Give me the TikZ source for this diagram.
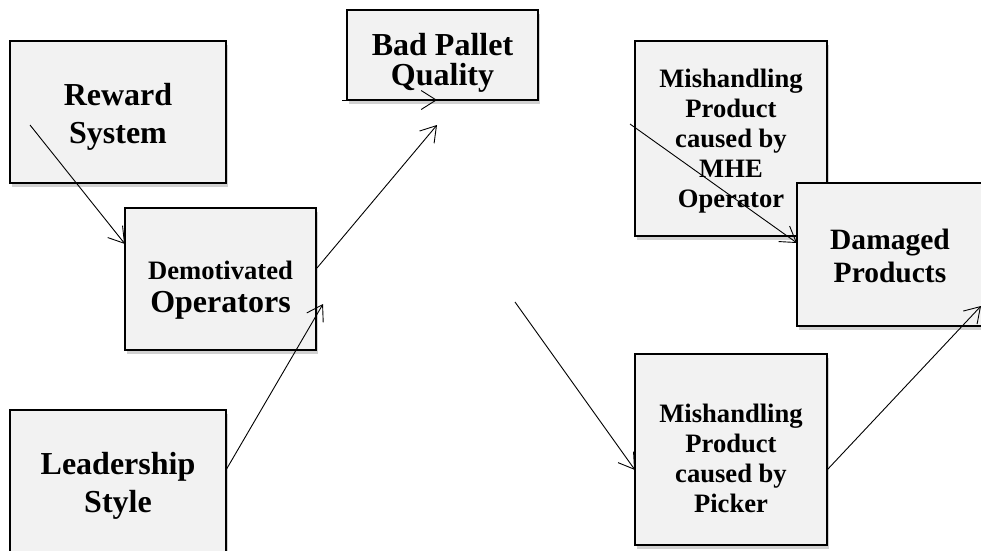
\documentclass[tikz,border=0pt]{standalone}
\usepackage{fontspec}
\setmainfont{Liberation Serif}
\usetikzlibrary{arrows.meta,shadows,calc}
\definecolor{boxfill}{HTML}{F2F2F2}
\tikzset{
  cbox/.style={draw=black, line width=2pt, fill=boxfill, outer sep=0pt, inner sep=0pt,
    drop shadow={shadow xshift=2pt, shadow yshift=-4pt, fill=black, opacity=0.18}},
  ctext/.style={align=center, font=\bfseries, inner sep=0pt},
  carrow/.style={line width=0.9pt, -{Straight Barb[length=15pt,width=19pt,line width=0.9pt]}}
}
\begin{document}
\begin{tikzpicture}[x=1pt,y=-1pt]
\useasboundingbox (0,0) rectangle (981,550);
% boxes
\node[cbox, minimum width=216, minimum height=142] (rs) at (118,112) {};
\node[cbox, minimum width=191, minimum height=142] (do) at (220.5,279) {};
\node[cbox, minimum width=216, minimum height=146] (ls) at (118,483) {};
\node[cbox, minimum width=191, minimum height=90] (bp) at (442.5,55) {};
\node[cbox, minimum width=192, minimum height=195] (mh) at (731,138.5) {};
\node[cbox, minimum width=200, minimum height=143] (dp) at (897,254.5) {};
\node[cbox, minimum width=192, minimum height=191] (pk) at (731,449.5) {};
% texts
\node[ctext, font=\bfseries\fontsize{32}{38}\selectfont] (rsT) at (118,116.5) {Reward\\System};
\node[ctext, font=\bfseries\fontsize{32}{33}\selectfont] (doT) at (220.5,290) {{\fontsize{26.6}{33}\selectfont Demotivated}\\Operators};
\node[ctext, font=\bfseries\fontsize{32}{38}\selectfont] (lsT) at (118,486) {Leadership\\Style};
\node[ctext, font=\bfseries\fontsize{32}{30}\selectfont] (bpT) at (442.5,62.5) {Bad Pallet\\Quality};
\node[ctext, font=\bfseries\fontsize{26.6}{30}\selectfont] (mhT) at (731,141) {Mishandling\\Product\\caused by\\MHE\\Operator};
\node[ctext, font=\bfseries\fontsize{29.5}{33}\selectfont] (dpT) at (890,256.3) {Damaged\\Products};
\node[ctext, font=\bfseries\fontsize{26.6}{30}\selectfont] (pkT) at (731,458.8) {Mishandling\\Product\\caused by\\Picker};
% free ends
\coordinate (c1) at (30,125);
\coordinate (c2) at (323,304);
\coordinate (c3) at (437,125);
\coordinate (c4) at (437,100);
\coordinate (c5) at (515,302);
\coordinate (c6) at (981,306);
\coordinate (c7) at (630,124);
% connectors
\draw[carrow] (c1) -- ($(do.north west)+(0,36)$);
\draw[carrow] ($(ls.north east)+(0,60)$) -- (c2);
\draw[carrow] ($(do.north east)+(1,60)$) -- (c3);
\draw[carrow] ($(bp.south west)+(-5,0)$) -- (c4);
\draw[carrow] (c5) -- ($(pk.north west)+(0,116)$);
\draw[carrow] ($(pk.north east)+(0,116)$) -- (c6);
\draw[carrow] (c7) -- ($(dp.north west)+(0,60)$);
\end{tikzpicture}
\end{document}
